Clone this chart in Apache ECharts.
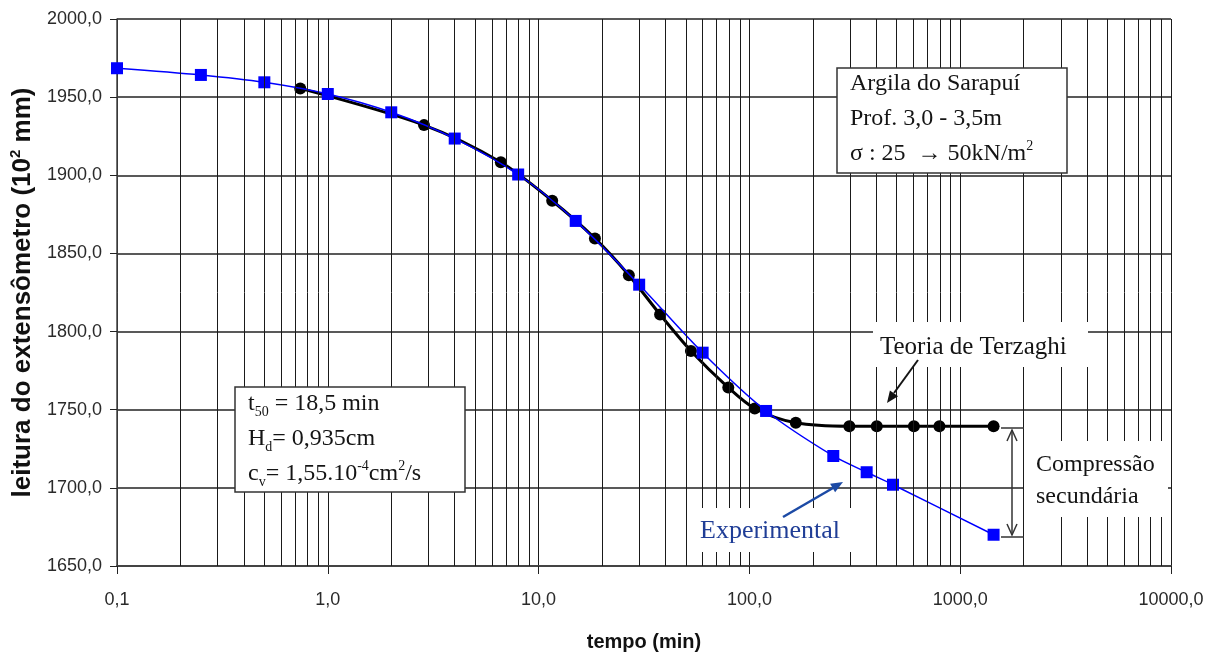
<!DOCTYPE html>
<html>
<head>
    <meta http-equiv="Content-Type" content="text/html; charset=utf-8" />
    <style type="text/css">
        body, html, #chart {width: 100%; height: 100%; overflow: hidden; margin: 0; background: #fff;}
    </style>
    <title>Adensamento - Argila do Sarapui</title>
</head>
<body>
<div id="chart"></div>
<script src="https://cdn.jsdelivr.net/npm/echarts@6/dist/echarts.min.js"></script>
<script type="text/javascript">
    // curva experimental (quadrados azuis)
    var tempoExp   = [0.1, 0.25, 0.5, 1, 2, 4, 8, 15, 30, 60, 120, 250, 360, 480, 1440];
    var leituraExp = [1968.5, 1964.2, 1959.5, 1952, 1940.3, 1923.5, 1900.5, 1870.8, 1830, 1786.5, 1749.2, 1720.4, 1710, 1702, 1670];

    // teoria de Terzaghi (circulos pretos)
    var tempoTerz   = [0.74, 2.86, 6.62, 11.6, 18.5, 26.8, 37.7, 52.8, 79.4, 106, 166, 298, 402, 603, 797, 1440];
    var leituraTerz = [1955.6, 1932.1, 1908.3, 1883.7, 1859.6, 1836.1, 1810.9, 1787.6, 1764.2, 1750.8, 1741.6, 1739.4, 1739.4, 1739.4, 1739.4, 1739.4];

    var xTickLabels = ['0,1', '1,0', '10,0', '100,0', '1000,0', '10000,0'];
    var decadas = [0.1, 1, 10, 100, 1000];

    // linhas verticais secundarias (2..9 de cada decada)
    var minorX = [];
    decadas.forEach(function (d) {
        for (var k = 2; k <= 9; k++) minorX.push(+(d * k).toPrecision(3));
    });

    function pares(xs, ys) {
        return xs.map(function (x, i) { return [x, ys[i]]; });
    }

    var serif = "'Liberation Serif', 'Times New Roman', serif";
    var sans = "'Liberation Sans', Arial, sans-serif";
    var ink = '#141414';

    function txt(x, y, text, rich, color, size) {
        return {
            type: 'text', x: x, y: y, z: 100,
            style: {
                text: text, fill: color || ink,
                fontFamily: serif, fontSize: size || 24,
                verticalAlign: 'middle', rich: rich
            }
        };
    }
    function box(x, y, w, h, stroke) {
        return {
            type: 'rect', z: 99,
            shape: {x: x, y: y, width: w, height: h},
            style: {fill: '#fff', stroke: stroke ? '#333' : null, lineWidth: 1.5}
        };
    }
    function seg(pts, color, w, fillIt) {
        return {
            type: fillIt ? 'polygon' : 'polyline', z: 101,
            shape: {points: pts},
            style: fillIt ? {fill: color} : {stroke: color, lineWidth: w || 1.5, fill: null}
        };
    }

    var rb = {fontFamily: serif, fontSize: 24, lineHeight: 30, fill: ink};
    var rsub = {fontFamily: serif, fontSize: 14, lineHeight: 14, verticalAlign: 'bottom', fill: ink};
    var rsup = {fontFamily: serif, fontSize: 14, lineHeight: 20, verticalAlign: 'top', fill: ink};
    var richBox = {a: rb, s: rsub, p: rsup};

    var anotacoes = [
        // caixa Argila do Sarapui
        box(837, 68, 230, 105, true),
        txt(850, 84, 'Argila do Sarapuí'),
        txt(850, 119, 'Prof. 3,0 - 3,5m'),
        txt(850, 154, '{a|σ : 25  → 50kN/m}{p|2}', richBox),
        // caixa t50
        box(235, 387, 230, 105, true),
        txt(248, 404, '{a|t}{s|50}{a| = 18,5 min}', richBox),
        txt(248, 439, '{a|H}{s|d}{a|= 0,935cm}', richBox),
        txt(248, 474, '{a|c}{s|v}{a|= 1,55.10}{p|-4}{a|cm}{p|2}{a|/s}', richBox),
        // Teoria de Terzaghi
        box(873, 322, 215, 45, false),
        txt(880, 347, 'Teoria de Terzaghi', null, ink, 25),
        seg([[918, 360], [894, 393]], ink, 2),
        seg([[887, 403], [898.1, 396.2], [889.9, 390.4]], ink, 0, true),
        // Experimental
        box(695, 508, 157, 44, false),
        txt(700, 531, 'Experimental', null, '#1f3d96', 26),
        seg([[783, 517], [833, 488]], '#1c4aa5', 2.5),
        seg([[843, 482], [835.1, 492.3], [830.1, 483.7]], '#1c4aa5', 0, true),
        // Compressao secundaria
        box(1024, 441, 144, 76, false),
        txt(1036, 465, 'Compressão'),
        txt(1036, 497, 'secundária'),
        seg([[1001, 428], [1024, 428]], '#333', 1.5),
        seg([[1001, 537], [1024, 537]], '#333', 1.5),
        seg([[1012, 430], [1012, 535]], '#333', 1.5),
        seg([[1007, 441], [1012, 430], [1017, 441]], '#333', 1.5),
        seg([[1007, 524], [1012, 535], [1017, 524]], '#333', 1.5)
    ];

    var myChart = echarts.init(document.getElementById('chart'));
    myChart.setOption({
        animation: false,
        backgroundColor: '#fff',
        grid: {left: 117, right: 45, top: 19, bottom: 92, outerBoundsMode: 'none'},
        xAxis: {
            type: 'log', logBase: 10, min: 0.1, max: 10000,
            name: 'tempo (min)', nameLocation: 'middle', nameGap: 66,
            nameTextStyle: {fontFamily: sans, fontSize: 20, fontWeight: 'bold', color: '#111'},
            axisLine: {lineStyle: {color: '#444', width: 2}},
            axisTick: {show: true, length: 8, lineStyle: {color: '#222', width: 1}},
            axisLabel: {
                margin: 25, fontFamily: sans, fontSize: 18, color: '#2a2a2a',
                formatter: function (v) {
                    return xTickLabels[Math.round(Math.log10(v)) + 1];
                }
            },
            splitLine: {show: true, lineStyle: {color: '#1a1a1a', width: 1}}
        },
        yAxis: {
            type: 'value', min: 1650, max: 2000, interval: 50,
            name: '{b|leitura do extensômetro (10}{sup|2}{b| mm)}',
            nameLocation: 'middle', nameGap: 74, nameRotate: 90,
            nameTextStyle: {
                fontFamily: sans, fontSize: 26, fontWeight: 'bold', color: '#111',
                rich: {
                    b: {fontFamily: sans, fontSize: 26, fontWeight: 'bold', color: '#111', lineHeight: 30},
                    sup: {fontFamily: sans, fontSize: 15, fontWeight: 'bold', color: '#111', verticalAlign: 'top', lineHeight: 18}
                }
            },
            axisLine: {show: true, lineStyle: {color: '#444', width: 1.5}},
            axisTick: {show: true, length: 7, lineStyle: {color: '#222'}},
            axisLabel: {
                margin: 15, fontFamily: sans, fontSize: 18, color: '#2a2a2a',
                formatter: function (v) { return v.toFixed(1).replace('.', ','); }
            },
            splitLine: {show: true, lineStyle: {color: '#222', width: 1.5}}
        },
        series: [
            {
                // grade secundaria do eixo log
                type: 'line', z: 1, data: [], silent: true,
                markLine: {
                    silent: true, symbol: ['none', 'none'], animation: false,
                    label: {show: false},
                    lineStyle: {color: '#1a1a1a', width: 1, type: 'solid'},
                    emphasis: {disabled: true},
                    data: minorX.map(function (v) { return {xAxis: v}; })
                }
            },
            {
                name: 'Teoria de Terzaghi', type: 'line', z: 3,
                data: pares(tempoTerz, leituraTerz),
                smooth: 0.3, symbol: 'circle', symbolSize: 12,
                itemStyle: {color: '#000'},
                lineStyle: {color: '#000', width: 3}
            },
            {
                name: 'Experimental', type: 'line', z: 4,
                data: pares(tempoExp, leituraExp),
                smooth: 0.3, symbol: 'rect', symbolSize: 12,
                itemStyle: {color: '#0000ff'},
                lineStyle: {color: '#0000ff', width: 1.5}
            }
        ],
        graphic: anotacoes
    });
</script>
</body>
</html>
